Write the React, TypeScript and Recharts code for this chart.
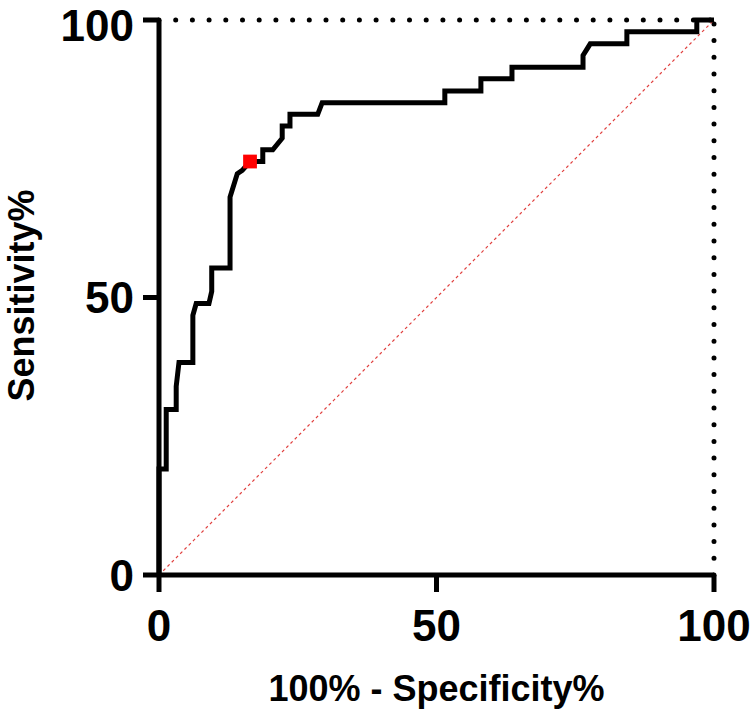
import { ComposedChart, Line, Scatter, XAxis, YAxis, ZAxis, ReferenceLine, Label } from "recharts";

// 100% - Specificity% (x) and Sensitivity% (y), ROC curve vertices
const fpr = [
  0, 0, 1.3, 1.3, 3.1, 3.1, 3.6, 6.1, 6.1, 6.7, 9.0, 9.5, 9.5, 12.8, 12.8, 14.1, 15.0, 16.4, 18.7, 18.7,
  20.5, 22.2, 22.2, 23.6, 23.6, 28.6, 29.4, 51.5, 51.5, 58.0, 58.0, 63.6, 63.6, 76.4, 76.4, 77.7, 84.3,
  84.3, 96.9, 96.9, 100,
];
const sens = [
  0, 19.1, 19.1, 29.8, 29.8, 34.0, 38.3, 38.3, 46.8, 48.9, 48.9, 51.1, 55.3, 55.3, 68.1, 72.3, 72.9, 74.5,
  74.5, 76.6, 76.6, 78.7, 80.9, 80.9, 83.0, 83.0, 85.1, 85.1, 87.2, 87.2, 89.4, 89.4, 91.5, 91.5, 93.6,
  95.7, 95.7, 97.9, 97.9, 100, 100,
];

// chance line and chosen cut-off point
const chanceX = [0, 100];
const chanceY = [0, 100];
const cutoffX = [16.4];
const cutoffY = [74.5];

const ticks = [0, 50, 100];

const FONT = "'Liberation Sans', Arial, sans-serif";

export default function App() {
  const roc = fpr.map((x, i) => ({ x, y: sens[i] }));
  const chance = chanceX.map((x, i) => ({ x, y: chanceY[i] }));
  const cutoff = cutoffX.map((x, i) => ({ x, y: cutoffY[i] }));

  const tickStyle = { fontSize: 44, fontWeight: "bold", fill: "#000", fontFamily: FONT };
  const labelStyle = { fontSize: 36, fontWeight: "bold", fill: "#000", fontFamily: FONT };

  return (
    <div style={{ position: "absolute", left: 0, top: 0, background: "#fff" }}>
      <ComposedChart width={754} height={717} margin={{ top: 20, right: 40, left: 0, bottom: 0 }}>
        <XAxis
          type="number"
          dataKey="x"
          domain={[0, 100]}
          ticks={ticks}
          height={142}
          stroke="#000"
          axisLine={{ stroke: "#000", strokeWidth: 5 }}
          tickLine={{ stroke: "#000", strokeWidth: 5 }}
          tickSize={17}
          tickMargin={18}
          tick={tickStyle}
        >
          <Label value="100% - Specificity%" position="insideBottom" offset={16} style={labelStyle} />
        </XAxis>
        <YAxis
          type="number"
          dataKey="y"
          domain={[0, 100]}
          ticks={ticks}
          width={159}
          stroke="#000"
          axisLine={{ stroke: "#000", strokeWidth: 5 }}
          tickLine={{ stroke: "#000", strokeWidth: 5 }}
          tickSize={16}
          tickMargin={9}
          tick={tickStyle}
        >
          <Label
            content={({ viewBox }: any) => {
              const cx = viewBox.x + 34;
              const cy = viewBox.y + viewBox.height / 2 - 2;
              return (
                <text
                  x={cx}
                  y={cy}
                  transform={`rotate(-90 ${cx} ${cy})`}
                  textAnchor="middle"
                  style={labelStyle}
                >
                  Sensitivity%
                </text>
              );
            }}
          />
        </YAxis>
        <ZAxis range={[190, 190]} />
        <ReferenceLine
          y={100}
          stroke="#000"
          strokeWidth={5}
          strokeDasharray="0 16.7"
          strokeLinecap="round"
          ifOverflow="visible"
        />
        <ReferenceLine
          x={100}
          stroke="#000"
          strokeWidth={5}
          strokeDasharray="0 16.7"
          strokeLinecap="round"
          ifOverflow="visible"
        />
        <Line
          data={chance}
          dataKey="y"
          type="linear"
          stroke="#e0403f"
          strokeWidth={1.2}
          strokeDasharray="3 3"
          dot={false}
          isAnimationActive={false}
        />
        <Line
          data={roc}
          dataKey="y"
          type="linear"
          stroke="#000"
          strokeWidth={5}
          strokeLinejoin="miter"
          dot={false}
          isAnimationActive={false}
        />
        <Scatter data={cutoff} dataKey="y" fill="#ff0000" shape="square" isAnimationActive={false} />
      </ComposedChart>
    </div>
  );
}
